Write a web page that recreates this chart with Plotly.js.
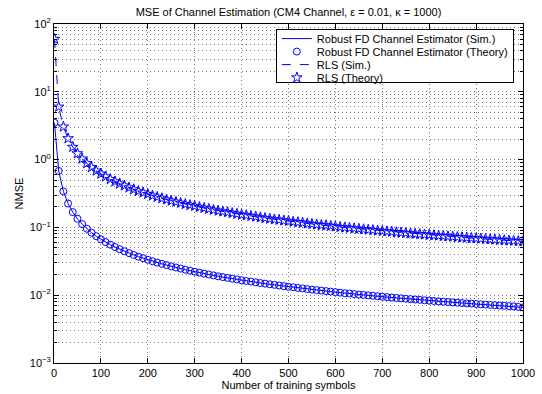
<!DOCTYPE html>
<html>
<head>
<meta charset="utf-8">
<script src="https://cdn.plot.ly/plotly-3.0.1.min.js"></script>
<style>html,body{margin:0;padding:0;background:#fff;}#chart{width:542px;height:394px;}</style>
</head>
<body>
<div id="chart"></div>
<script>
var nSym = [1,10,20,30,40,50,60,70,80,90,100,110,120,130,140,150,160,170,180,190,200,210,220,230,240,250,260,270,280,290,300,310,320,330,340,350,360,370,380,390,400,410,420,430,440,450,460,470,480,490,500,510,520,530,540,550,560,570,580,590,600,610,620,630,640,650,660,670,680,690,700,710,720,730,740,750,760,770,780,790,800,810,820,830,840,850,860,870,880,890,900,910,920,930,940,950,960,970,980,990,1000];

var robustTheory = [3.5,0.68,0.34,0.225,0.168,0.134,0.112,0.0955,0.0835,0.0742,0.0668,0.0607,0.0556,0.0513,0.0477,0.0445,0.0417,0.0392,0.0370,0.0351,0.0333,0.0317,0.0303,0.0290,0.0278,0.0266,0.0256,0.0247,0.0238,0.0230,0.0222,0.0215,0.0208,0.0202,0.0196,0.0190,0.0185,0.0180,0.0175,0.0171,0.0166,0.0162,0.0159,0.0155,0.0151,0.0148,0.0145,0.0142,0.0139,0.0136,0.0133,0.0131,0.0128,0.0126,0.0123,0.0121,0.0119,0.0117,0.0115,0.0113,0.0111,0.0109,0.0107,0.0106,0.0104,0.0102,0.0101,0.00995,0.0098,0.00965,0.0095,0.00937,0.00924,0.00911,0.00899,0.00887,0.00875,0.00864,0.00853,0.00842,0.00832,0.00822,0.00812,0.00802,0.00793,0.00784,0.00775,0.00766,0.00758,0.0075,0.00742,0.00734,0.00726,0.00719,0.00712,0.00705,0.00698,0.00691,0.00684,0.00672,0.0066];
var robustSim = robustTheory.slice();

var rlsTheory = [60,6.0,3.05,2.05,1.53,1.23,1.03,0.88,0.77,0.685,0.617,0.561,0.514,0.475,0.441,0.412,0.386,0.363,0.343,0.325,0.309,0.294,0.281,0.268,0.257,0.247,0.238,0.229,0.220,0.213,0.206,0.199,0.193,0.187,0.181,0.176,0.171,0.167,0.162,0.158,0.154,0.151,0.147,0.144,0.140,0.137,0.134,0.131,0.129,0.126,0.124,0.121,0.119,0.117,0.114,0.112,0.110,0.108,0.107,0.105,0.103,0.101,0.0996,0.0981,0.0966,0.0951,0.0937,0.0923,0.0909,0.0896,0.0883,0.0871,0.0859,0.0847,0.0836,0.0825,0.0814,0.0803,0.0793,0.0783,0.0773,0.0764,0.0754,0.0745,0.0736,0.0728,0.0719,0.0711,0.0703,0.0695,0.0688,0.0680,0.0673,0.0666,0.0659,0.0652,0.0645,0.0639,0.0632,0.0626,0.0620];
var rlsSim = rlsTheory.slice();

var yTickVals = [0.001,0.01,0.1,1,10,100];
var yTickText = ['10<sup>\u22123</sup>','10<sup>\u22122</sup>','10<sup>\u22121</sup>','10<sup>0</sup>','10<sup>1</sup>','10<sup>2</sup>'];
var xTickVals = [0,100,200,300,400,500,600,700,800,900,1000];

var blue = '#0000ff';
var font = 'Liberation Sans, Arial, Helvetica, sans-serif';
var gridCol = '#7a7a7a';
var gridDash = '1px,3px';

var traces = [
  {x: nSym, y: robustSim, mode: 'lines', name: 'Robust FD Channel Estimator (Sim.)',
   line: {color: blue, width: 1}},
  {x: nSym, y: robustTheory, mode: 'markers', name: 'Robust FD Channel Estimator (Theory)',
   marker: {symbol: 'circle-open', size: 7, color: blue, line: {width: 1, color: blue}}},
  {x: nSym, y: rlsSim, mode: 'lines', name: 'RLS (Sim.)',
   line: {color: blue, width: 1, dash: 'dash'}},
  {x: nSym, y: rlsTheory, mode: 'markers', name: 'RLS (Theory)',
   marker: {symbol: 'star-open', size: 8, color: blue, line: {width: 1, color: blue}}}
];

var layout = {
  width: 542, height: 394,
  margin: {l: 54, r: 19, t: 24, b: 31},
  paper_bgcolor: '#fff', plot_bgcolor: '#fff',
  font: {family: font, size: 11, color: '#000'},
  title: {text: 'MSE of Channel Estimation (CM4 Channel, \u03b5 = 0.01, \u03ba = 1000)',
          x: 0.5, xref: 'paper', xanchor: 'center', y: 0.968, yref: 'container', yanchor: 'middle',
          font: {family: font, size: 11, color: '#000'}},
  showlegend: true,
  legend: {x: 0.473, y: 0.985, xanchor: 'left', yanchor: 'top', bgcolor: '#fff',
           bordercolor: '#000', borderwidth: 1, font: {family: font, size: 11, color: '#000'},
           tracegroupgap: 0, itemwidth: 30},
  xaxis: {range: [0, 1000], tickvals: xTickVals, ticks: 'inside', ticklen: 5, tickcolor: '#000',
          showline: true, linecolor: '#000', linewidth: 1, mirror: 'allticks', zeroline: false,
          showgrid: true, gridcolor: gridCol, griddash: gridDash, gridwidth: 1,
          tickfont: {family: font, size: 11, color: '#000'},
          title: {text: 'Number of training symbols', standoff: 2, font: {family: font, size: 11, color: '#000'}}},
  yaxis: {type: 'log', range: [-3, 2], tickvals: yTickVals, ticktext: yTickText,
          ticks: 'inside', ticklen: 5, tickcolor: '#000',
          showline: true, linecolor: '#000', linewidth: 1, mirror: 'allticks', zeroline: false,
          showgrid: true, gridcolor: gridCol, griddash: gridDash, gridwidth: 1,
          minor: {dtick: 'D1', ticks: 'inside', ticklen: 3, tickcolor: '#000', showgrid: true,
                  gridcolor: gridCol, griddash: gridDash, gridwidth: 1},
          tickfont: {family: font, size: 11, color: '#000'},
          title: {text: 'NMSE', standoff: 3, font: {family: font, size: 11, color: '#000'}}}
};

function compactLegend(gd) {
  var leg = gd.querySelector('g.legend');
  if (!leg) return;
  var items = leg.querySelectorAll('g.traces');
  var bg = leg.querySelector('rect.bg');
  if (!items.length || !bg) return;
  var ys = [];
  var re = /translate\(\s*([-\d.]+)[ ,]+([-\d.]+)\s*\)/;
  items.forEach(function (it) {
    var m = re.exec(it.getAttribute('transform') || '');
    ys.push(m ? [parseFloat(m[1]), parseFloat(m[2])] : [0, 0]);
  });
  var step = 13;
  var first = ys[0][1];
  var newFirst = first - 6;
  items.forEach(function (it, i) {
    it.setAttribute('transform', 'translate(' + ys[i][0] + ',' + (newFirst + i * step) + ')');
  });
  var h = parseFloat(bg.getAttribute('height'));
  var lastOld = ys[ys.length - 1][1];
  var lastNew = newFirst + (ys.length - 1) * step;
  var newH = h - (lastOld - lastNew) - 10;
  bg.setAttribute('height', newH);
}

Plotly.newPlot('chart', traces, layout, {displayModeBar: false, staticPlot: true}).then(function (gd) {
  compactLegend(gd);
});
</script>
</body>
</html>
